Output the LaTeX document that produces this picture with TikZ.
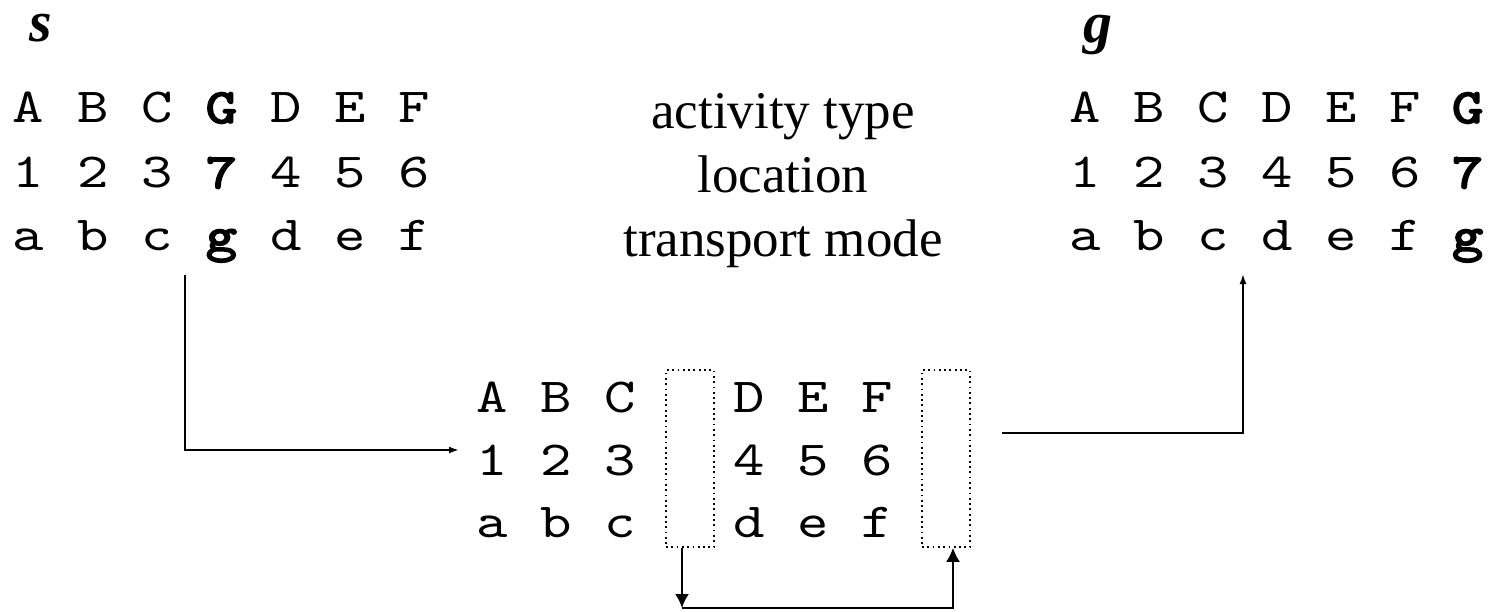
\documentclass[tikz,border=0pt]{standalone}
\usepackage{fontspec}
\setmainfont{Liberation Serif}
\setmonofont[FakeStretch=1.22]{lmmono10-regular.otf}
\newfontfamily\ttheavy[FakeStretch=1.22,FakeBold=3.5]{lmmono10-regular.otf}
\usetikzlibrary{arrows.meta}
\begin{document}
\begin{tikzpicture}[x=1pt,y=-1pt,
  ch/.style={anchor=base,inner sep=0pt,font=\fontsize{49}{55}\ttfamily},
  chb/.style={anchor=base,inner sep=0pt,font=\fontsize{49}{55}\ttheavy},
  lbl/.style={anchor=base,inner sep=0pt,font=\fontsize{53}{60}\selectfont},
  var/.style={anchor=base west,inner sep=0pt,font=\fontsize{58}{64}\selectfont\bfseries\itshape},
  dotbox/.style={draw,line width=1.6pt,dash pattern=on 1.8pt off 3.5pt,minimum width=48pt,minimum height=177pt,inner sep=0pt},
  conn/.style={line width=1.8pt,-{Latex[length=10pt,width=7pt]}},
  bconn/.style={line width=2pt,-{Latex[length=14pt,width=14pt]}}
]
\useasboundingbox (0,0) rectangle (1493,612);
% labels s and g
\node[var] (s) at (29,42) {s};
\node[var] (g) at (1083,43) {g};
% left block
\foreach \c [count=\i from 0] in {A,B,C}
  \node[ch] (la\i) at (28.5+64.3*\i,123) {\c};
\node[chb] (la3) at (221.4,123) {G};
\foreach \c [count=\i from 4] in {D,E,F}
  \node[ch] (la\i) at (28.5+64.3*\i,123) {\c};
\foreach \c [count=\i from 0] in {1,2,3}
  \node[ch] (lb\i) at (28.5+64.3*\i,188) {\c};
\node[chb] (lb3) at (221.4,188) {7};
\foreach \c [count=\i from 4] in {4,5,6}
  \node[ch] (lb\i) at (28.5+64.3*\i,188) {\c};
\foreach \c [count=\i from 0] in {a,b,c}
  \node[ch] (lc\i) at (28.5+64.3*\i,251) {\c};
\node[chb] (lc3) at (221.4,251) {g};
\foreach \c [count=\i from 4] in {d,e,f}
  \node[ch] (lc\i) at (28.5+64.3*\i,251) {\c};
% middle labels
\node[lbl] (t1) at (783,129) {activity type};
\node[lbl] (t2) at (783,193) {location};
\node[lbl] (t3) at (783,257) {transport mode};
% right block
\foreach \c [count=\i from 0] in {A,B,C,D,E,F}
  \node[ch] (ra\i) at (1085+64.1*\i,123) {\c};
\node[chb] (ra6) at (1467.6,123) {G};
\foreach \c [count=\i from 0] in {1,2,3,4,5,6}
  \node[ch] (rb\i) at (1085+64.1*\i,188) {\c};
\node[chb] (rb6) at (1467.6,188) {7};
\foreach \c [count=\i from 0] in {a,b,c,d,e,f}
  \node[ch] (rc\i) at (1085+64.1*\i,251) {\c};
\node[chb] (rc6) at (1467.6,251) {g};
% middle block
\foreach \c [count=\i from 0] in {A,B,C}
  \node[ch] (ma\i) at (492+64*\i,412) {\c};
\foreach \c [count=\i from 0] in {1,2,3}
  \node[ch] (mb\i) at (492+64*\i,475) {\c};
\foreach \c [count=\i from 0] in {a,b,c}
  \node[ch] (mc\i) at (492+64*\i,537) {\c};
\foreach \c [count=\i from 0] in {D,E,F}
  \node[ch] (na\i) at (749+64*\i,412) {\c};
\foreach \c [count=\i from 0] in {4,5,6}
  \node[ch] (nb\i) at (749+64*\i,475) {\c};
\foreach \c [count=\i from 0] in {d,e,f}
  \node[ch] (nc\i) at (749+64*\i,537) {\c};
\node[dotbox] (b1) at (690,458.5) {};
\node[dotbox] (b2) at (946,458.5) {};
% connectors
\coordinate (a1s) at (185,275);
\coordinate (a1e) at (459,450);
\draw[conn] (a1s) |- (a1e);
\coordinate (a2s) at (1002,433);
\coordinate (a2e) at (1243,274);
\draw[conn] (a2s) -| (a2e);
\coordinate (c1) at (682,608);
\draw[bconn] ([xshift=-8pt]b1.south) -- (c1);
\draw[bconn] (c1) -| ([xshift=7pt]b2.south);
\end{tikzpicture}
\end{document}
